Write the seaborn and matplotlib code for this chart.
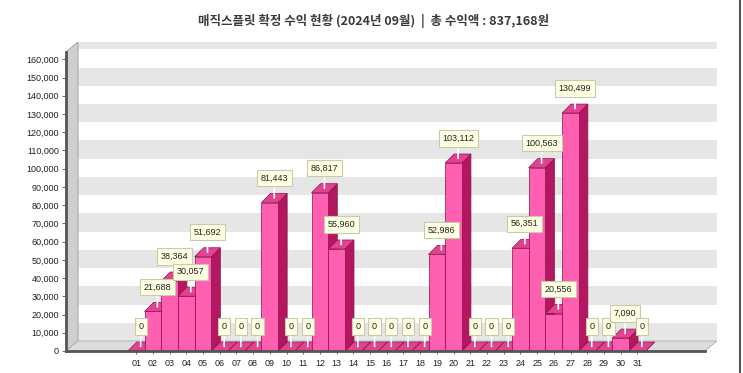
import numpy as np
import seaborn as sns
import matplotlib.pyplot as plt
from matplotlib.patches import Polygon, Rectangle
from matplotlib.lines import Line2D
from matplotlib.ticker import FuncFormatter, MultipleLocator
import matplotlib.transforms as mtransforms

days = ['%02d' % d for d in range(1, 32)]
revenue = [0, 21688, 38364, 30057, 51692, 0, 0, 0, 81443, 0,
           0, 86817, 55960, 0, 0, 0, 0, 0, 52986, 103112,
           0, 0, 0, 56351, 100563, 20556, 130499, 0, 0, 7090, 0]
title = '매직스플릿 확정 수익 현황 (2024년 09월)  |  총 수익액 : 837,168원'

sns.set_style('white')
plt.rcParams['font.family'] = ['Liberation Sans', 'DejaVu Sans']

FRONT = '#FF5FB0'
TOP = '#E2438F'
SIDE = '#B3175F'
EDGE = '#8E0D4B'

fig = plt.figure(figsize=(7.43, 3.73), dpi=100)
ax = fig.add_axes([66 / 743, 22 / 373, 639 / 743, 299 / 373])

sns.barplot(x=days, y=revenue, color=FRONT, saturation=1, width=1.0,
            edgecolor=EDGE, linewidth=0.5, ax=ax, zorder=3)
ax.set_xlim(-4.2, 34.05)
ax.set_ylim(0, 164000)

# pixel -> data conversion for the pseudo 3D depth
fig.canvas.draw()
(px0, py0), (px1, py1) = ax.transData.transform([(0, 0), (1, 10000)])
ux = px1 - px0
uy = (py1 - py0) / 10000
ddx, ddy = 9 / ux, 9 / uy

# back wall stripes, shifted back
wall = mtransforms.offset_copy(ax.transData, fig, x=12, y=10, units='dots')
x0, x1 = ax.get_xlim()
for lo in range(0, 170000, 20000):
    hi = min(lo + 10000, 164000)
    ax.add_patch(Rectangle((x0, lo), x1 - x0, hi - lo,
                           transform=wall, facecolor='#E6E6E6', edgecolor='none',
                           zorder=0, clip_on=False))

# left wall and floor
wx, wy = 12 / ux, 10 / uy
ax.add_patch(Polygon([(x0, 0), (x0 + wx, wy), (x0 + wx, 164000 + wy), (x0, 164000)],
                     closed=True, facecolor='#CFCFCF', edgecolor='#9A9A9A', lw=0.6,
                     zorder=1, clip_on=False))
ax.add_patch(Polygon([(x0, 0), (x1, 0), (x1 + wx, wy), (x0 + wx, wy)],
                     closed=True, facecolor='#DCDCDC', edgecolor='#B0B0B0', lw=0.6,
                     zorder=1, clip_on=False))

# 3D side and top faces
for p, v in zip(ax.patches[:len(revenue)], revenue):
    bx = p.get_x()
    bw = p.get_width()
    h = p.get_height()
    ax.add_patch(Polygon([(bx + bw, 0), (bx + bw + ddx, ddy), (bx + bw + ddx, h + ddy), (bx + bw, h)],
                         closed=True, facecolor=SIDE, edgecolor=EDGE, lw=0.5, zorder=2))
    ax.add_patch(Polygon([(bx, h), (bx + bw, h), (bx + bw + ddx, h + ddy), (bx + ddx, h + ddy)],
                         closed=True, facecolor=TOP, edgecolor=EDGE, lw=0.5, zorder=2,
                         clip_on=False))
    ax.annotate(f'{v:,}', xy=(bx + bw / 2 + ddx / 2, h + ddy / 2),
                xytext=(0, 20), textcoords='offset pixels', ha='center', va='center',
                fontsize=6.5, color='#222222', zorder=6,
                bbox=dict(boxstyle='square,pad=0.4', fc='#FFFFE4', ec='#C9C9B0', lw=0.8),
                arrowprops=dict(arrowstyle='-', color='white', lw=1.2, shrinkA=0, shrinkB=0))

ax.yaxis.set_major_locator(MultipleLocator(10000))
ax.yaxis.set_minor_locator(MultipleLocator(2000))
ax.yaxis.set_major_formatter(FuncFormatter(lambda v, _: f'{int(v):,}'))
ax.tick_params(axis='y', which='major', length=3, width=0.6, labelsize=6.5, pad=2, colors='#555555',
               labelcolor='#222222')
ax.tick_params(axis='y', which='minor', length=1.5, width=0.5, colors='#777777')
ax.tick_params(axis='x', which='major', length=2, width=0.6, labelsize=6.5, pad=4, colors='#555555',
               labelcolor='#222222')
ax.tick_params(left=True, bottom=True)
ax.set_xlabel('')
ax.set_ylabel('')

for s in ['top', 'right']:
    ax.spines[s].set_visible(False)
for s in ['left', 'bottom']:
    ax.spines[s].set_color('#555555')
    ax.spines[s].set_linewidth(2)
    ax.spines[s].set_zorder(5)

fig.text(0.503, 0.943, title, ha='center', va='center', fontsize=9, fontweight='bold',
         color='#3A3A3A', family=['Noto Sans CJK KR', 'DejaVu Sans'])
fig.add_artist(Line2D([740 / 743, 740 / 743], [0, 1], color='#555555', lw=1.5))

fig.savefig('out.png', dpi=100)
